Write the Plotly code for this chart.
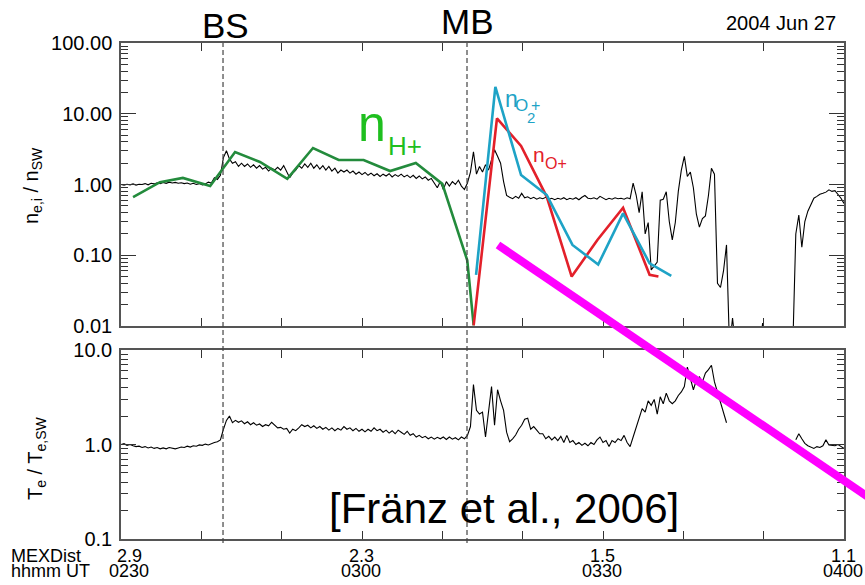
import plotly.graph_objects as go

# ---------------------------------------------------------------------------
# Mars Express crossing, 2004 Jun 27 (minutes after 02:30 UT)
# ---------------------------------------------------------------------------
CADENCE_MIN = 0.375  # electron moments, 22.5 s cadence

# electron density normalised to solar wind density
ne_ratio = [
    1.00, 0.98, 1.01, 0.99, 1.02, 0.98, 1.01, 1.00, 1.03, 0.99,
    1.04, 1.02, 1.06, 1.03, 1.07, 1.04, 1.08, 1.05, 1.07, 1.04,
    1.06, 1.03, 1.05, 1.01, 1.04, 1.00, 1.03, 0.99, 1.02, 1.08,
    1.05, 1.25, 1.18, 1.35, 2.4, 3.0, 2.3, 2.0, 2.1, 1.8,
    2.0, 1.8, 1.95, 1.75, 1.9, 1.7, 1.85, 1.65, 1.75, 1.55,
    1.7, 1.6, 1.75, 1.6, 1.85, 1.5, 1.25, 1.45, 1.6, 1.85,
    1.7, 1.95, 1.75, 2.0, 1.7, 1.9, 1.65, 1.85, 1.6, 1.8,
    1.55, 1.7, 1.45, 1.6, 1.5, 1.6, 1.45, 1.55, 1.4, 1.5,
    1.38, 1.48, 1.35, 1.45, 1.33, 1.42, 1.3, 1.4, 1.32, 1.42,
    1.28, 1.38, 1.3, 1.4, 1.28, 1.36, 1.25, 1.35, 1.22, 1.32,
    1.2, 1.28, 1.15, 1.22, 1.05, 0.9, 1.1, 0.85, 1.1, 0.95,
    1.1, 1.0, 1.15, 0.95, 0.85, 1.05, 1.5, 2.9, 1.4, 1.8,
    1.5, 1.9, 1.6, 2.2, 3.1, 2.5, 2.0, 1.1, 0.7, 0.66,
    0.63, 0.68, 0.64, 0.75, 0.65, 0.67, 0.63, 0.66, 0.62, 0.65,
    0.63, 0.66, 0.62, 0.64, 0.61, 0.64, 0.62, 0.65, 0.61, 0.64,
    0.62, 0.65, 0.61, 0.66, 0.70, 0.64, 0.63, 0.65, 0.62, 0.68,
    0.64, 0.61, 0.64, 0.62, 0.65, 0.63, 0.64, 0.62, 0.65, 0.63,
    1.05, 0.71, 0.40, 0.79, 0.20, 0.29, 0.062, 0.07, 0.08, 0.60,
    0.62, 0.79, 0.30, 0.165, 0.29, 0.80, 1.6, 2.5, 1.3, 1.5,
    0.9, 0.38, 0.25, 0.33, 0.36, 0.7, 1.7, 1.4, 0.04, 0.035,
    0.06, 0.14, 0.005, 0.013, 0.005, 0.005, 0.005, 0.005, 0.005, 0.005,
    0.005, 0.005, 0.005, 0.011, 0.005, 0.005, 0.005, 0.005, 0.005, 0.005,
    0.005, 0.005, 0.005, 0.005, 0.2, 0.37, 0.13, 0.3, 0.42, 0.52,
    0.64, 0.68, 0.73, 0.75, 0.78, 0.84, 0.8, 0.82, 0.72, 0.64,
    0.54,
]

# electron temperature normalised to solar wind temperature
te_ratio = [
    1.0, 1.02, 0.98, 1.0, 0.97, 0.95, 0.96, 0.93, 0.95, 0.92,
    0.94, 0.91, 0.93, 0.9, 0.92, 0.9, 0.93, 0.91, 0.9, 0.92,
    0.94, 0.93, 0.96, 0.94, 0.97, 0.96, 0.99, 0.98, 1.01, 0.99,
    1.03, 1.05, 1.07, 1.12, 1.45, 1.8, 2.0, 1.7, 1.8, 1.72,
    1.78, 1.66, 1.74, 1.62, 1.7, 1.6, 1.65, 1.55, 1.62, 1.58,
    1.72, 1.6, 1.5, 1.52, 1.45, 1.48, 1.32, 1.45, 1.4, 1.5,
    1.62, 1.55, 1.6, 1.5, 1.58, 1.48, 1.55, 1.45, 1.52, 1.42,
    1.5, 1.4, 1.48, 1.42, 1.55, 1.45, 1.5, 1.4, 1.48, 1.38,
    1.45, 1.36, 1.45, 1.38, 1.5, 1.4, 1.45, 1.35, 1.42, 1.32,
    1.4, 1.3, 1.42, 1.35, 1.28, 1.38, 1.25, 1.3, 1.2, 1.25,
    1.18, 1.22, 1.15, 1.2, 1.14, 1.19, 1.15, 1.2, 1.13, 1.2,
    1.14, 1.18, 1.12, 1.2, 1.15, 1.25, 1.55, 4.3, 2.3, 2.1,
    2.2, 1.2, 2.2, 4.1, 1.6, 3.8, 2.9, 2.3, 1.35, 1.07,
    1.15, 1.26, 1.45, 1.6, 1.85, 1.9, 1.45, 1.55, 1.42, 1.3,
    1.3, 1.15, 1.22, 1.12, 1.2, 1.1, 1.22, 1.05, 1.25, 1.05,
    1.1, 1.0, 1.05, 0.98, 1.03, 0.97, 1.05, 1.0, 1.12, 1.2,
    1.05, 1.1, 0.95, 1.1, 1.05, 1.15, 1.1, 1.25, 1.05, 0.95,
    1.2, 1.5, 1.9, 2.4, 2.2, 2.9, 2.6, 3.0, 2.1, 3.2,
    2.7, 3.5, 2.9, 2.7, 2.9, 3.3, 3.6, 4.1, 6.6, 5.0,
    3.8, 4.8, 5.2, 4.6, 5.7, 6.2, 6.9, 4.6, 3.6, 2.8,
    2.2, 1.7, None, None, None, None, None, None, None, None,
    None, None, None, None, None, None, None, None, None, None,
    None, None, None, None, 1.12, 1.3, 1.15, 1.03, 0.97, 0.93,
    0.91, 0.95, 0.93, 0.97, 1.12, 0.99, 0.98, 0.97, 1.0, 0.95,
    0.91,
]

elec_minutes = [i * CADENCE_MIN for i in range(len(ne_ratio))]

# ion densities (IMA, one value per energy sweep)
h_minutes = [1.5, 4.85, 7.7, 11.1, 14.2, 17.3, 20.7, 23.9, 27.1, 30.2, 33.5, 36.7, 40.0, 43.1, 43.9]
h_ratio = [0.665, 1.08, 1.24, 0.95, 2.88, 2.08, 1.20, 3.28, 2.22, 2.22, 1.55, 2.01, 1.02, 0.085, 0.0102]

o_minutes = [43.9, 46.8, 49.8, 53.0, 56.1, 59.3, 62.5, 65.8, 66.9]
o_ratio = [0.0102, 8.6, 3.5, 0.67, 0.05, 0.164, 0.47, 0.053, 0.05]

o2_minutes = [44.2, 46.6, 49.8, 53.0, 56.2, 59.4, 62.5, 65.8, 68.5]
o2_ratio = [0.053, 24.0, 1.36, 0.71, 0.14, 0.074, 0.39, 0.077, 0.051]

# boundary crossings
bs_minute = 12.7   # bow shock
mb_minute = 43.07  # magnetic pile-up boundary

# x-axis labelling
major_minutes = [0, 10, 20, 30, 40, 50, 60, 70, 80, 90]
label_minutes = [0, 30, 60, 90]
ut_labels = ["0230", "0300", "0330", "0400"]
mex_dist = ["2.9", "2.3", "1.5", "1.1"]

top_ticks = [0.01, 0.1, 1, 10, 100]
top_ticktext = ["0.01", "0.10", "1.00", "10.00", "100.00"]
bot_ticks = [0.1, 1, 10]
bot_ticktext = ["0.1", "1.0", "10.0"]

FONT = "Liberation Sans, Arial, Helvetica, sans-serif"
GREEN = "#238b3c"
RED = "#e3202a"
CYAN = "#1ea3c6"


def minor_log(lo_exp, hi_exp):
    return [k * 10.0 ** e for e in range(lo_exp, hi_exp) for k in range(2, 10)]


fig = go.Figure()

fig.add_trace(go.Scatter(x=elec_minutes, y=ne_ratio, mode="lines",
                         line=dict(color="black", width=1.1), xaxis="x", yaxis="y"))
fig.add_trace(go.Scatter(x=h_minutes, y=h_ratio, mode="lines",
                         line=dict(color=GREEN, width=2.6), xaxis="x", yaxis="y"))
fig.add_trace(go.Scatter(x=o_minutes, y=o_ratio, mode="lines",
                         line=dict(color=RED, width=2.6), xaxis="x", yaxis="y"))
fig.add_trace(go.Scatter(x=o2_minutes, y=o2_ratio, mode="lines",
                         line=dict(color=CYAN, width=2.6), xaxis="x", yaxis="y"))
fig.add_trace(go.Scatter(x=elec_minutes, y=te_ratio, mode="lines",
                         line=dict(color="black", width=1.1), xaxis="x2", yaxis="y2"))

axis_common = dict(showline=True, linecolor="#555", linewidth=1.5, mirror="ticks",
                   showgrid=False, zeroline=False, tickcolor="#333", tickwidth=1.2,
                   ticks="inside")

xaxis_common = dict(axis_common, range=[0, 90], tickmode="array", tickvals=major_minutes,
                    ticklen=8, showticklabels=False)


def yaxis_log(rng, tickvals, ticktext, minor_vals, domain, anchor):
    return dict(axis_common, type="log", range=rng, domain=domain, anchor=anchor,
                tickmode="array", tickvals=tickvals, ticktext=ticktext, ticklen=15,
                tickfont=dict(family=FONT, size=20, color="black"), ticklabelstandoff=3,
                minor=dict(tickmode="array", tickvals=minor_vals, ticks="inside",
                           ticklen=7, tickwidth=1, tickcolor="#333", showgrid=False))


fig.update_layout(
    width=865, height=585,
    margin=dict(l=121, r=21, t=43, b=46),
    paper_bgcolor="white", plot_bgcolor="white",
    showlegend=False,
    font=dict(family=FONT, color="black"),
    xaxis=dict(xaxis_common, domain=[0, 1], anchor="y"),
    yaxis=yaxis_log([-2, 2], top_ticks, top_ticktext, minor_log(-2, 2), [0.4294, 1], "x"),
    xaxis2=dict(xaxis_common, domain=[0, 1], anchor="y2"),
    yaxis2=yaxis_log([-1, 1], bot_ticks, bot_ticktext, minor_log(-1, 1), [0, 0.381], "x2"),
)

# boundary markers spanning both panels
for m in (bs_minute, mb_minute):
    fig.add_shape(type="line", xref="x", yref="paper", x0=m, x1=m, y0=-0.008, y1=1.0,
                  line=dict(color="#444", width=1.2, dash="5px,3px"), layer="above")

# highlighted trend bar
fig.add_shape(type="line", xref="paper", yref="paper", x0=0.5214, y0=0.5927,
              x1=1.0498, y1=0.0685, line=dict(color="#ff00ff", width=8), layer="above")

ann = []


def text(x, y, s, size, color="black", xref="paper", yref="paper",
         xanchor="center", yanchor="middle", **kw):
    ann.append(dict(x=x, y=y, xref=xref, yref=yref, text=s, showarrow=False,
                    xanchor=xanchor, yanchor=yanchor,
                    font=dict(family=FONT, size=size, color=color), **kw))


text(bs_minute, 1.036, "BS", 35, xref="x", xshift=2)
text(mb_minute, 1.044, "MB", 35, xref="x")
text(0.9917, 1.040, "2004 Jun 27", 20, xanchor="right")

# species labels
text(0.3475, 0.8375, "n", 50, color="#1fbf1f")
text(0.3928, 0.7923, "H+", 26, color="#1fbf1f")
text(0.5781, 0.7742, "n", 21, color=RED)
text(0.6017, 0.7569, "O+", 16, color=RED)
text(0.5408, 0.8871, "n", 23, color=CYAN)
text(0.5546, 0.8730, "O", 17, color=CYAN)
text(0.5671, 0.8508, "2", 15, color=CYAN)
text(0.5733, 0.8750, "+", 16, color=CYAN)

# axis titles
text(-0.1231, 0.7137, "n<sub>e,i</sub> / n<sub>SW</sub>", 20, textangle=-90)
text(-0.1176, 0.1633, "T<sub>e</sub> / T<sub>e,SW</sub>", 20, textangle=-90)

# citation
text(0.5297, 0.0625, "[Fränz et al., 2006]", 42)

# time / distance labels under the lower panel
text(-0.1549, -0.0343, "MEXDist", 18, xanchor="left")
text(-0.1549, -0.0645, "hhmm UT", 18, xanchor="left")
for i, (m, d, u) in enumerate(zip(label_minutes, mex_dist, ut_labels)):
    shift = 8 if i == 0 else -1
    text(m, -0.0343, d, 18, xref="x2", xshift=shift)
    text(m, -0.0645, u, 18, xref="x2", xshift=shift)

fig.update_layout(annotations=ann)

fig.write_html("out.html")
